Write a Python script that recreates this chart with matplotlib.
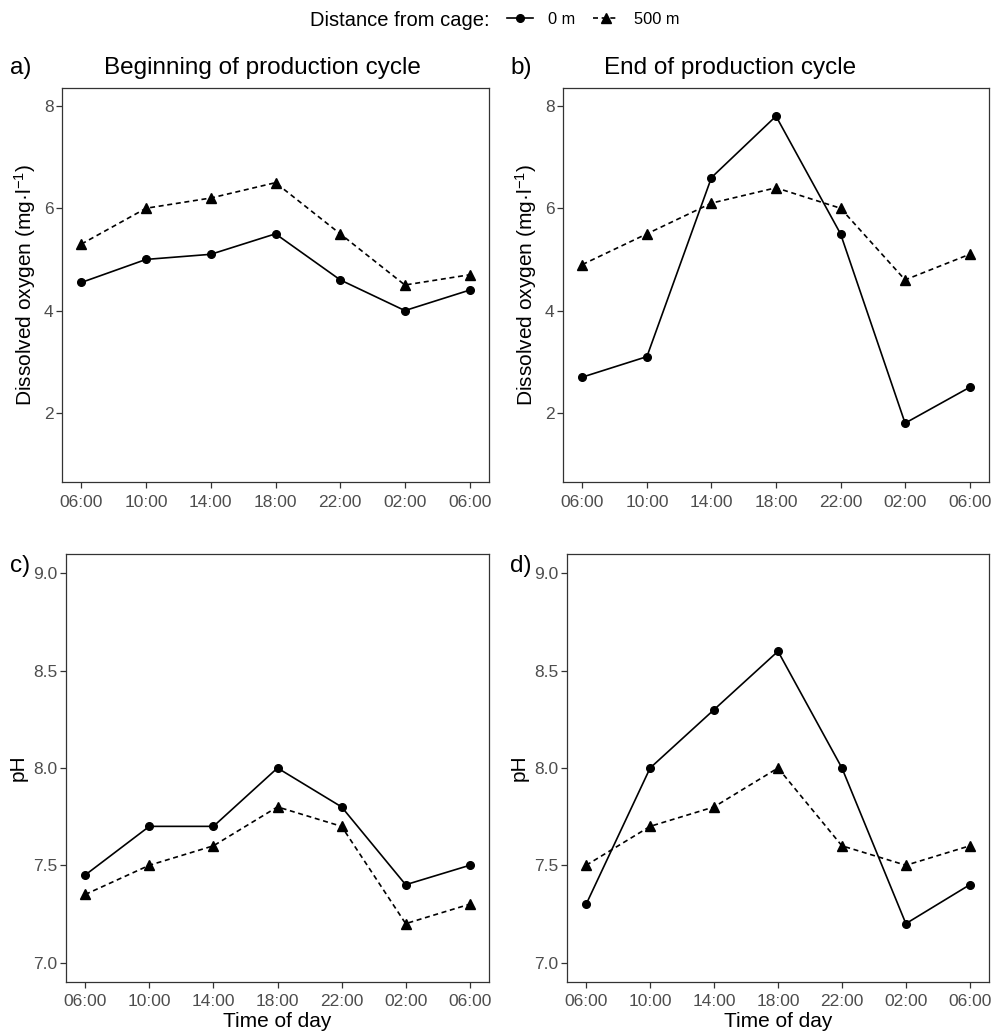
import matplotlib

matplotlib.use("Agg")
import matplotlib.pyplot as plt
from matplotlib.lines import Line2D

plt.rcParams["font.family"] = ["Liberation Sans", "DejaVu Sans"]
plt.rcParams["mathtext.fontset"] = "custom"
plt.rcParams["mathtext.rm"] = "Liberation Sans"
plt.rcParams["mathtext.it"] = "Liberation Sans:italic"

TIMES = ["06:00", "10:00", "14:00", "18:00", "22:00", "02:00", "06:00"]
SERIES = ["0 m", "500 m"]

# dissolved oxygen (mg/l)
do_begin_0 = [4.55, 5.0, 5.1, 5.5, 4.6, 4.0, 4.4]
do_begin_500 = [5.3, 6.0, 6.2, 6.5, 5.5, 4.5, 4.7]
do_end_0 = [2.7, 3.1, 6.6, 7.8, 5.5, 1.8, 2.5]
do_end_500 = [4.9, 5.5, 6.1, 6.4, 6.0, 4.6, 5.1]

# pH
ph_begin_0 = [7.45, 7.7, 7.7, 8.0, 7.8, 7.4, 7.5]
ph_begin_500 = [7.35, 7.5, 7.6, 7.8, 7.7, 7.2, 7.3]
ph_end_0 = [7.3, 8.0, 8.3, 8.6, 8.0, 7.2, 7.4]
ph_end_500 = [7.5, 7.7, 7.8, 8.0, 7.6, 7.5, 7.6]

W, H = 997, 1036
fig = plt.figure(figsize=(W / 100, H / 100), dpi=100, facecolor="white")


def px_axes(left, top, right, bottom):
    return fig.add_axes([left / W, 1 - bottom / H, (right - left) / W, (bottom - top) / H])


STYLE = {
    "0 m": dict(color="black", ls="-", lw=1.2, marker="o", ms=5.5),
    "500 m": dict(color="black", ls=(0, (3, 2.2)), lw=1.2, marker="^", ms=6.5),
}

panels = [
    (px_axes(62, 88, 489, 482), do_begin_0, do_begin_500, "do"),
    (px_axes(563, 88, 989, 482), do_end_0, do_end_500, "do"),
    (px_axes(66, 554, 489, 982), ph_begin_0, ph_begin_500, "ph"),
    (px_axes(567, 554, 989, 982), ph_end_0, ph_end_500, "ph"),
]

x = list(range(len(TIMES)))
for ax, v0, v500, kind in panels:
    ax.plot(x, v500, **STYLE["500 m"])
    ax.plot(x, v0, **STYLE["0 m"])
    ax.set_xlim(-0.3, 6.3)
    ax.set_xticks(x, TIMES)
    if kind == "do":
        ax.set_ylim(0.65, 8.35)
        ax.set_yticks([2, 4, 6, 8])
        ax.set_ylabel("Dissolved oxygen (mg·l$^{-1}$)", fontsize=15, labelpad=4)
    else:
        ax.set_ylim(6.9, 9.1)
        ax.set_yticks([7.0, 7.5, 8.0, 8.5, 9.0], ["7.0", "7.5", "8.0", "8.5", "9.0"])
        ax.set_ylabel("pH", fontsize=15, labelpad=4)
        ax.set_xlabel("Time of day", fontsize=15, labelpad=2)
    ax.tick_params(colors="#333333", labelcolor="#4d4d4d", labelsize=12.5, length=4, width=0.9, pad=2)
    ax.tick_params(axis="x", pad=5)
    for s in ax.spines.values():
        s.set_color("#333333")
        s.set_linewidth(0.9)

# panel tags and titles
fig.text(10 / W, 1 - 74 / H, "a)", fontsize=17.5, va="baseline")
fig.text(510 / W, 1 - 74 / H, "b)", fontsize=17.5, va="baseline")
fig.text(262 / W, 1 - 74 / H, "Beginning of production cycle", fontsize=17.5, va="baseline", ha="center")
fig.text(730 / W, 1 - 74 / H, "End of production cycle", fontsize=17.5, va="baseline", ha="center")
fig.text(10 / W, 1 - 572 / H, "c)", fontsize=17.5, va="baseline")
fig.text(510 / W, 1 - 572 / H, "d)", fontsize=17.5, va="baseline")

# legend on top
fig.text(310 / W, 1 - 26.5 / H, "Distance from cage:", fontsize=14.5, va="baseline")
handles = [Line2D([], [], **STYLE[s]) for s in SERIES]
fig.legend(handles, SERIES, loc="center left", bbox_to_anchor=(507 / W, 1 - 19 / H),
           ncol=2, frameon=False, fontsize=11.8, borderpad=0, borderaxespad=0,
           handlelength=1.6, handletextpad=0.9, columnspacing=1.1)

fig.savefig("out.png", dpi=100, facecolor="white")
